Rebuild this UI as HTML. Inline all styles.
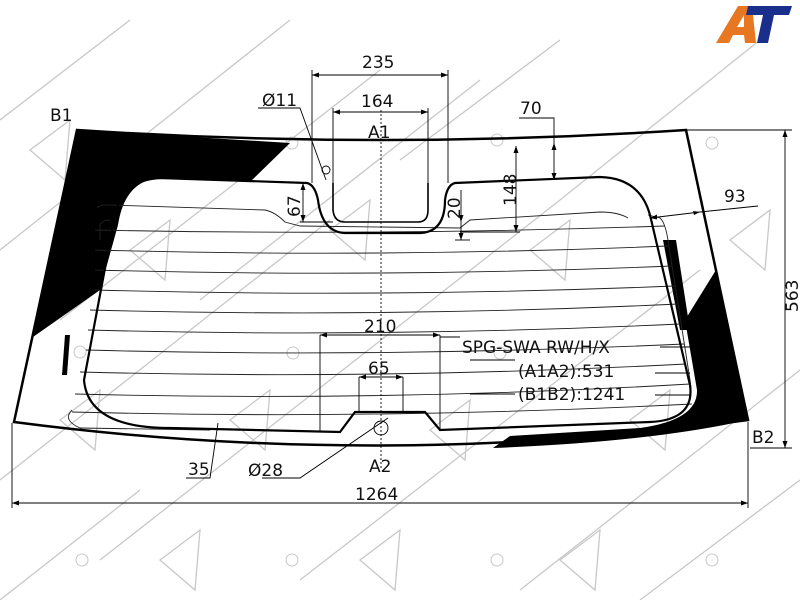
<!DOCTYPE html>
<html><head><meta charset="utf-8"><style>
html,body{margin:0;padding:0;background:#fff;}
svg{display:block;}
text{font-family:"DejaVu Sans","Liberation Sans",sans-serif;fill:#111;}
</style></head><body>
<svg width="800" height="600" viewBox="0 0 800 600" xmlns="http://www.w3.org/2000/svg">
<!-- watermark -->
<g stroke="#c8c8c8" stroke-width="1.3" fill="none">
<path d="M0 120 L130 20 M0 250 L290 20 M60 320 L380 70 M0 480 L330 220 M100 560 L560 200 M300 580 L700 270 M520 590 L800 370 M640 600 L800 480 M400 160 L560 40 M560 200 L760 40 M200 300 L480 80 M0 600 L140 490"/>
<path d="M30 150 l40 -30 l-5 60 z M130 250 l40 -30 l-5 60 z M330 230 l40 -30 l-5 60 z M530 250 l40 -30 l-5 60 z M730 240 l40 -30 l-5 60 z M60 420 l40 -30 l-5 60 z M230 420 l40 -30 l-5 60 z M430 430 l40 -30 l-5 60 z M630 420 l40 -30 l-5 60 z M160 560 l40 -30 l-5 60 z M360 560 l40 -30 l-5 60 z M560 560 l40 -30 l-5 60 z"/>
<g stroke-width="1"><circle cx="82" cy="142" r="6"/><circle cx="292" cy="143" r="6"/><circle cx="497" cy="140" r="6"/><circle cx="712" cy="143" r="6"/><circle cx="80" cy="352" r="6"/><circle cx="293" cy="353" r="6"/><circle cx="500" cy="353" r="6"/><circle cx="712" cy="353" r="6"/><circle cx="82" cy="560" r="6"/><circle cx="292" cy="560" r="6"/><circle cx="497" cy="560" r="6"/><circle cx="712" cy="560" r="6"/></g>
</g>
<!-- black ceramic -->
<g fill="#000">
<path d="M77 130 L290 143 L250 182 L160 178 Q125 180 118 225 L100 290 L33 337 L77 130 Z"/>
<path d="M65 335 L70 335 L67 375 L62 375 Z"/>
<path d="M716 270 L748 420 Q650 442 493 448 L510 436 L640 428 Q698 420 697 390 L685 320 Z"/>
<path d="M663 240 L676 240 L690 330 L680 330 Z"/>
</g>
<!-- outer glass -->
<path d="M77 130 Q380 150 686 130 L748 420 Q380 470 14 422 Z" fill="none" stroke="#000" stroke-width="2.5"/>
<!-- heater lines -->
<g stroke="#222" stroke-width="0.9" fill="none">
<path d="M95 230 Q380 236 665 226"/>
<path d="M95 250 Q380 258 668 246"/>
<path d="M95 270 Q380 278 672 266"/>
<path d="M95 290 Q380 298 675 286"/>
<path d="M90 310 Q380 318 678 304"/>
<path d="M88 330 Q380 338 680 324"/>
<path d="M86 350 Q380 358 684 344"/>
<path d="M80 372 Q380 380 686 364"/>
<path d="M75 394 Q380 402 690 384"/>
<path d="M72 412 Q380 420 692 404"/>
<path d="M97 208 Q100 204 110 205 L265 210 Q275 212 285 222 L300 226 L460 228 L470 220 L600 212 Q618 212 628 218"/>
<path d="M100 240 L100 225 Q102 220 110 220"/>
<path d="M72 410 Q62 420 80 428 L210 430"/>
<path d="M648 215 L660 218 Q665 222 668 240 L690 380 Q695 410 670 418"/>
</g>
<!-- heavy defroster frame -->
<path d="M160 178 L307 183 Q315 185 318 200 Q322 232 345 233 L420 233 Q445 232 445 200 Q447 185 455 183 L600 177 Q640 178 650 215 L690 385 Q695 420 650 422 L440 430 L425 412 L355 412 L340 432 L170 428 Q88 428 84 380 L115 215 Q122 180 160 178 Z" fill="none" stroke="#000" stroke-width="2.2"/>
<path d="M333 183 L333 210 Q334 222 345 222 L418 222 Q428 222 428 210 L428 183" fill="none" stroke="#000" stroke-width="1.6"/>
<!-- dims -->
<g stroke="#000" stroke-width="0.9" fill="none">
<line x1="381" y1="110" x2="381" y2="470" stroke-dasharray="2,2"/>
<line x1="312" y1="75" x2="448" y2="75"/><line x1="312" y1="70" x2="312" y2="183"/><line x1="448" y1="70" x2="448" y2="183"/>
<line x1="333" y1="112" x2="428" y2="112"/><line x1="333" y1="108" x2="333" y2="183"/><line x1="428" y1="108" x2="428" y2="183"/>
<path d="M258 108 L300 108 L326 180"/><circle cx="326" cy="170" r="4"/>
<line x1="303" y1="183" x2="303" y2="222"/><line x1="300" y1="222" x2="333" y2="222"/>
<line x1="461" y1="190" x2="461" y2="240"/><line x1="455" y1="240" x2="470" y2="240"/>
<line x1="516" y1="146" x2="516" y2="232"/><line x1="460" y1="232" x2="520" y2="232"/>
<path d="M519 118 L554 118 L554 178"/>
<path d="M650 218 L700 212 L758 206"/>
<line x1="686" y1="130" x2="792" y2="130"/><line x1="750" y1="448" x2="792" y2="448"/><line x1="785" y1="130" x2="785" y2="448"/>
<line x1="12" y1="423" x2="12" y2="508"/><line x1="748" y1="422" x2="748" y2="508"/><line x1="12" y1="503" x2="748" y2="503"/>
<line x1="320" y1="335" x2="440" y2="335"/><line x1="320" y1="335" x2="320" y2="432"/><line x1="440" y1="335" x2="440" y2="430"/>
<line x1="359" y1="377" x2="403" y2="377"/><line x1="359" y1="377" x2="359" y2="412"/><line x1="403" y1="377" x2="403" y2="412"/>
<line x1="440" y1="337" x2="460" y2="337"/><line x1="470" y1="360" x2="515" y2="360"/><line x1="470" y1="394" x2="515" y2="394"/>
<line x1="660" y1="347" x2="690" y2="347"/><line x1="655" y1="373" x2="690" y2="373"/><line x1="655" y1="395" x2="690" y2="395"/>
<circle cx="381" cy="428" r="7"/><path d="M262 478 L300 478 L388 418"/>
<path d="M186 478 L210 478 L218 423"/>
</g>
<g fill="#000">
<path d="M312 75 l7 -2.5 v5z M448 75 l-7 -2.5 v5z M333 112 l7 -2.5 v5z M428 112 l-7 -2.5 v5z M303 183 l-2.5 7 h5z M303 222 l-2.5 -7 h5z M461 222 l-2.5 -7 h5z M461 240 l-2.5 -7 h5z M516 146 l-2.5 7 h5z M516 232 l-2.5 -7 h5z M554 143 l-2.5 7 h5z M554 180 l-2.5 -7 h5z M785 130 l-2.5 7 h5z M785 448 l-2.5 -7 h5z M12 503 l7 -2.5 v5z M748 503 l-7 -2.5 v5z M320 335 l7 -2.5 v5z M440 335 l-7 -2.5 v5z M359 377 l7 -2.5 v5z M403 377 l-7 -2.5 v5z M650 218 l7 -3.5 v5z M700 212 l-7 -1 l1 4z"/>
</g>
<g font-size="17">
<text x="362" y="68">235</text>
<text x="361" y="107">164</text>
<text x="368" y="138">A1</text>
<text x="262" y="106">Ø11</text>
<text x="520" y="114">70</text>
<text x="724" y="202">93</text>
<text x="50" y="121">B1</text>
<text x="752" y="443">B2</text>
<text x="364" y="332">210</text>
<text x="368" y="374">65</text>
<text x="462" y="353">SPG-SWA RW/H/X</text>
<text x="518" y="377">(A1A2):531</text>
<text x="518" y="400">(B1B2):1241</text>
<text x="188" y="475">35</text>
<text x="248" y="476">Ø28</text>
<text x="369" y="472">A2</text>
<text x="355" y="500">1264</text>
<text transform="translate(300,217) rotate(-90)">67</text>
<text transform="translate(460,219) rotate(-90)">20</text>
<text transform="translate(516,206) rotate(-90)">148</text>
<text transform="translate(798,312) rotate(-90)">563</text>
</g>
<!-- logo -->
<path d="M716 43 L738 6 L752 6 L756 43 L745 43 L744 35 L733 35 L729 43 Z M737 27 L744 27 L744 15 Z" fill="#e87722" fill-rule="evenodd"/>
<path d="M748 6 L792 6 L789 15 L774 15 L768 43 L757 43 L763 15 L746 15 Z" fill="#1a2e8c"/>
</svg>
</body></html>
